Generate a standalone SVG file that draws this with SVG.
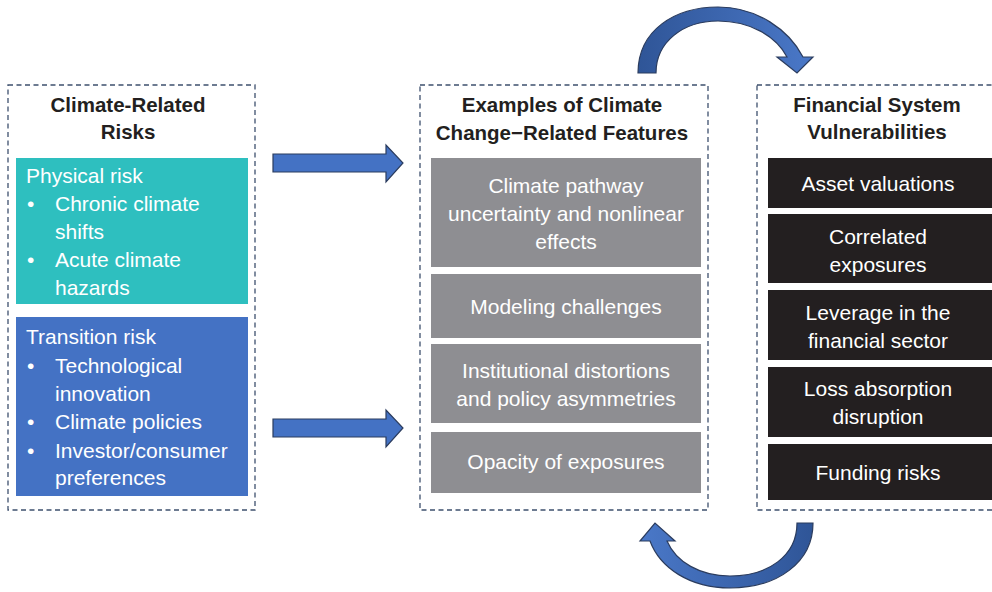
<svg xmlns="http://www.w3.org/2000/svg" width="992" height="592" viewBox="0 0 992 592">
  <style>
    .frame { fill: none; stroke: #3E506E; stroke-width: 1.3; stroke-dasharray: 5 3.5; }
    .title { font-family: "Liberation Sans", Arial, sans-serif; font-size: 20.5px; font-weight: bold; fill: #231F20; text-anchor: middle; }
    .txt { font-family: "Liberation Sans", Arial, sans-serif; font-size: 21px; fill: #FFFFFF; }
    .mid { text-anchor: middle; }
    .physical { fill: #2EBFBF; }
    .transition { fill: #4472C4; }
    .feature { fill: #8E8E92; }
    .vuln { fill: #231F20; }
    .arrow { fill: #4472C4; stroke: #2B3C5E; stroke-width: 1.2; stroke-linejoin: miter; }
  </style>
  <defs>
    <linearGradient id="gradTop" x1="0" y1="0" x2="1" y2="0">
      <stop offset="0" stop-color="#2F5597"/>
      <stop offset="1" stop-color="#4A78C8"/>
    </linearGradient>
    <linearGradient id="gradBottom" x1="1" y1="0" x2="0" y2="0">
      <stop offset="0" stop-color="#2F5597"/>
      <stop offset="1" stop-color="#4A78C8"/>
    </linearGradient>
  </defs>

  <rect width="992" height="592" fill="#FFFFFF"/>

  <!-- Left column: climate-related risks -->
  <g id="climate-risks">
    <rect class="frame" x="8" y="85" width="247" height="425"/>
    <text class="title" x="128" y="112">Climate-Related</text>
    <text class="title" x="128" y="139">Risks</text>
  </g>
  <g id="physical-risk">
    <rect class="physical" x="16" y="158" width="232" height="146"/>
    <text class="txt" x="26" y="183">Physical risk</text>
    <text class="txt" x="27" y="211">•</text>
    <text class="txt" x="55" y="211">Chronic climate</text>
    <text class="txt" x="55" y="239">shifts</text>
    <text class="txt" x="27" y="267">•</text>
    <text class="txt" x="55" y="267">Acute climate</text>
    <text class="txt" x="55" y="295">hazards</text>
  </g>
  <g id="transition-risk">
    <rect class="transition" x="16" y="317" width="232" height="179"/>
    <text class="txt" x="26" y="344">Transition risk</text>
    <text class="txt" x="27" y="373">•</text>
    <text class="txt" x="55" y="373">Technological</text>
    <text class="txt" x="55" y="401">innovation</text>
    <text class="txt" x="27" y="429">•</text>
    <text class="txt" x="55" y="429">Climate policies</text>
    <text class="txt" x="27" y="458">•</text>
    <text class="txt" x="55" y="458">Investor/consumer</text>
    <text class="txt" x="55" y="485">preferences</text>
  </g>

  <!-- Middle column: climate change-related features -->
  <g id="features">
    <rect class="frame" x="420" y="85" width="288" height="425"/>
    <text class="title" x="562" y="112">Examples of Climate</text>
    <text class="title" x="562" y="140">Change−Related Features</text>
  </g>
  <g id="feature-pathway">
    <rect class="feature" x="431" y="158" width="270" height="109"/>
    <text class="txt mid" x="566" y="193">Climate pathway</text>
    <text class="txt mid" x="566" y="221">uncertainty and nonlinear</text>
    <text class="txt mid" x="566" y="249">effects</text>
  </g>
  <g id="feature-modeling">
    <rect class="feature" x="431" y="274" width="270" height="64"/>
    <text class="txt mid" x="566" y="314">Modeling challenges</text>
  </g>
  <g id="feature-institutional">
    <rect class="feature" x="431" y="344" width="270" height="79"/>
    <text class="txt mid" x="566" y="378">Institutional distortions</text>
    <text class="txt mid" x="566" y="406">and policy asymmetries</text>
  </g>
  <g id="feature-opacity">
    <rect class="feature" x="431" y="432" width="270" height="61"/>
    <text class="txt mid" x="566" y="469">Opacity of exposures</text>
  </g>

  <!-- Right column: financial system vulnerabilities -->
  <g id="vulnerabilities">
    <rect class="frame" x="757" y="85" width="245" height="425"/>
    <text class="title" x="877" y="112">Financial System</text>
    <text class="title" x="877" y="139">Vulnerabilities</text>
  </g>
  <g id="vuln-asset">
    <rect class="vuln" x="768" y="158" width="224" height="50"/>
    <text class="txt mid" x="878" y="191">Asset valuations</text>
  </g>
  <g id="vuln-correlated">
    <rect class="vuln" x="768" y="214" width="224" height="69"/>
    <text class="txt mid" x="878" y="244">Correlated</text>
    <text class="txt mid" x="878" y="272">exposures</text>
  </g>
  <g id="vuln-leverage">
    <rect class="vuln" x="768" y="290" width="224" height="70"/>
    <text class="txt mid" x="878" y="320">Leverage in the</text>
    <text class="txt mid" x="878" y="348">financial sector</text>
  </g>
  <g id="vuln-loss">
    <rect class="vuln" x="768" y="367" width="224" height="70"/>
    <text class="txt mid" x="878" y="396">Loss absorption</text>
    <text class="txt mid" x="878" y="424">disruption</text>
  </g>
  <g id="vuln-funding">
    <rect class="vuln" x="768" y="444" width="224" height="56"/>
    <text class="txt mid" x="878" y="480">Funding risks</text>
  </g>

  <!-- Connectors: block arrows and curved feedback arrows -->
  <g id="connectors">
    <path class="arrow" d="M273,154 L386,154 L386,145 L403,163 L386,182 L386,172 L273,172 Z"/>
    <path class="arrow" d="M273,419 L386,419 L386,410 L403,428 L386,447 L386,437 L273,437 Z"/>
    <path class="arrow" style="fill:url(#gradTop)" d="M638,73 C638,30 675,7 718,7 C757,7 789,30 803,57 L813,57 L797,73 L777,57 L787,57 C776,36 750,21 718,21 C683,21 656,42 656,73 Z"/>
    <path class="arrow" style="fill:url(#gradBottom)" d="M813,523 C813,562 778,588 730,588 C690,588 660,568 650,541 L640,541 L655,523 L675,541 L667,541 C676,562 700,576 730,576 C768,576 797,556 797,523 Z"/>
  </g>
</svg>
